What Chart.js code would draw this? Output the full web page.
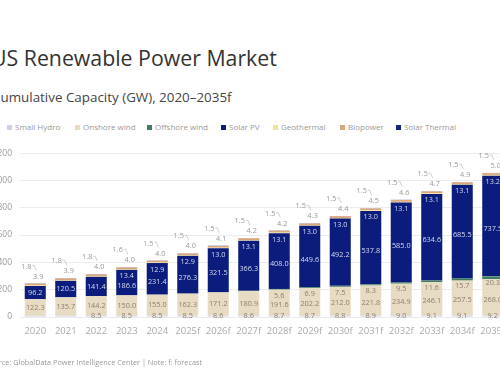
<!DOCTYPE html>
<html>
<head>
<meta charset="utf-8">
<script src="https://cdn.jsdelivr.net/npm/chart.js@4.4.1/dist/chart.umd.min.js"></script>
<style>
  html, body { margin: 0; padding: 0; background: #fff; overflow: hidden; }
  body { width: 500px; height: 383px; position: relative; font-family: 'Open Sans', sans-serif; }
  #title { position: absolute; left: -9px; top: 43px; font-size: 21.3px; color: #333; white-space: nowrap; }
  #subtitle { position: absolute; left: -8px; top: 88px; font-size: 13.4px; color: #444; white-space: nowrap; }
  #legend { position: absolute; left: 0; top: 121px; width: 500px; height: 12px; }
  .lg { position: absolute; top: 0; font-size: 8px; color: #999; white-space: nowrap; line-height: 12px; }
  .lg i { display: inline-block; width: 5px; height: 5px; margin-right: 3px; vertical-align: 0px; }
  #source { position: absolute; left: -14px; top: 357px; font-size: 7.3px; color: #999; white-space: nowrap; }
  #wrap { position: absolute; left: -40px; top: 140px; width: 560px; height: 243px; }
</style>
</head>
<body>
<div id="title">US Renewable Power Market</div>
<div id="subtitle">Cumulative Capacity (GW), 2020–2035f</div>
<div id="legend"></div>
<div id="wrap"><canvas id="myChart" width="560" height="243"></canvas></div>
<div id="source">Source: GlobalData Power Intelligence Center | Note: f: forecast</div>
<script>
const years = ['2020', '2021', '2022', '2023', '2024', '2025f', '2026f', '2027f',
  '2028f', '2029f', '2030f', '2031f', '2032f', '2033f', '2034f', '2035f'];

const smallHydro = [8.5, 8.5, 8.5, 8.5, 8.5, 8.5, 8.6, 8.6, 8.7, 8.7, 8.8, 8.9, 9.0, 9.1, 9.1, 9.2];
const onshoreWind = [122.3, 135.7, 144.2, 150.0, 155.0, 162.3, 171.2, 180.9, 191.6, 202.2, 212.0, 221.8, 234.9, 246.1, 257.5, 268.0];
const offshoreWind = [0, 0, 0, 0, 0.2, 0.7, 1.7, 3.2, 5.6, 6.9, 7.5, 8.3, 9.5, 11.6, 15.7, 20.3];
const solarPV = [96.2, 120.5, 141.4, 186.6, 231.4, 276.3, 321.5, 366.3, 408.0, 449.6, 492.2, 537.8, 585.0, 634.6, 685.5, 737.5];
const geothermal = [3.9, 3.9, 4.0, 4.0, 4.0, 4.0, 4.1, 4.2, 4.2, 4.3, 4.4, 4.5, 4.6, 4.7, 4.9, 5.0];
const biopower = [13.2, 13.3, 13.4, 13.4, 12.9, 12.9, 13.0, 13.1, 13.1, 13.0, 13.0, 13.0, 13.1, 13.1, 13.1, 13.2];
const solarThermal = [1.8, 1.8, 1.8, 1.6, 1.5, 1.5, 1.5, 1.5, 1.5, 1.5, 1.5, 1.5, 1.5, 1.5, 1.5, 1.5];

const yTicks = [0, 200, 400, 600, 800, 1000, 1200];

const series = [
  { label: 'Small Hydro', data: smallHydro, color: '#c9d0ea', legendX: 7 },
  { label: 'Onshore wind', data: onshoreWind, color: '#e8dbc4', legendX: 75 },
  { label: 'Offshore wind', data: offshoreWind, color: '#3f7d5c', legendX: 147 },
  { label: 'Solar PV', data: solarPV, color: '#0c1c7c', legendX: 221 },
  { label: 'Geothermal', data: geothermal, color: '#efe39a', legendX: 273 },
  { label: 'Biopower', data: biopower, color: '#dca77a', legendX: 340 },
  { label: 'Solar Thermal', data: solarThermal, color: '#16247f', legendX: 396 }
];

// html legend
const legend = document.getElementById('legend');
series.forEach(s => {
  const d = document.createElement('div');
  d.className = 'lg';
  d.style.left = s.legendX + 'px';
  d.innerHTML = '<i style="background:' + s.color + '"></i>' + s.label;
  legend.appendChild(d);
});

const fmt = v => v.toFixed(1);

// value labels on the stacks
const stackLabels = {
  id: 'stackLabels',
  afterDatasetsDraw(chart) {
    const c = chart.ctx;
    c.save();
    c.font = '7.3px "Open Sans", sans-serif';
    c.textAlign = 'center';
    c.textBaseline = 'middle';
    const metas = chart.data.datasets.map((d, i) => chart.getDatasetMeta(i));
    years.forEach((y, i) => {
      const top = metas[6].data[i].y;
      const cx = metas[0].data[i].x;
      // small hydro at the base
      const hy = metas[0].data[i];
      if (i > 1) { c.fillStyle = '#8c7f6c'; c.fillText(fmt(smallHydro[i]), cx, hy.base - 1); }
      // onshore wind
      const on = metas[1].data[i];
      c.fillStyle = '#8c7f6c';
      c.fillText(fmt(onshoreWind[i]), cx, (on.y + on.base) / 2 + (offshoreWind[i] >= 5 ? 2 : 0));
      // offshore wind
      if (offshoreWind[i] >= 5) {
        c.fillText(fmt(offshoreWind[i]), cx, metas[2].data[i].y + 7);
      }
      // solar pv
      const pv = metas[3].data[i];
      c.fillStyle = '#d3daf2';
      c.fillText(fmt(solarPV[i]), cx, (pv.y + pv.base) / 2 + (i > 2 ? 3 : 0));
      // biopower inside top of navy
      if (i > 2) c.fillText(fmt(biopower[i]), cx, top + 9);
      // geothermal + solar thermal above
      c.fillStyle = '#999';
      c.fillText(fmt(geothermal[i]), cx + 3, top - 7);
      c.fillText(fmt(solarThermal[i]), cx - 9, top - 17);
      c.strokeStyle = '#bbb';
      c.lineWidth = 0.7;
      c.beginPath();
      c.moveTo(cx - 3, top - 18);
      c.lineTo(cx - 1, top - 18);
      c.lineTo(cx + 1, top - 13);
      c.stroke();
    });
    c.restore();
  }
};

const ctx = document.getElementById('myChart').getContext('2d');

new Chart(ctx, {
  type: 'bar',
  data: {
    labels: years,
    datasets: series.map(s => ({
      label: s.label,
      data: s.data,
      backgroundColor: s.color,
      borderWidth: 0,
      barPercentage: 0.69,
      categoryPercentage: 1
    }))
  },
  options: {
    responsive: false,
    animation: false,
    devicePixelRatio: 1,
    layout: { padding: { top: 10, right: 12, left: 0, bottom: 0 } },
    plugins: {
      legend: { display: false },
      tooltip: { enabled: false }
    },
    scales: {
      x: {
        stacked: true,
        grid: { display: false, drawTicks: false },
        border: { display: false },
        ticks: { color: '#aaa', font: { size: 9.5, family: 'Open Sans' }, padding: 9, maxRotation: 0, autoSkip: false },
        afterFit(scale) { scale.height = 66; }
      },
      y: {
        stacked: true,
        min: 0,
        max: 1200,
        afterBuildTicks(scale) { scale.ticks = yTicks.map(v => ({ value: v })); },
        grid: { color: '#ececec', drawTicks: false },
        border: { display: false },
        ticks: { color: '#999', font: { size: 8.5, family: 'Open Sans' }, padding: 8 },
        afterFit(scale) { scale.width = 60; }
      }
    }
  },
  plugins: [stackLabels]
});
</script>
</body>
</html>
